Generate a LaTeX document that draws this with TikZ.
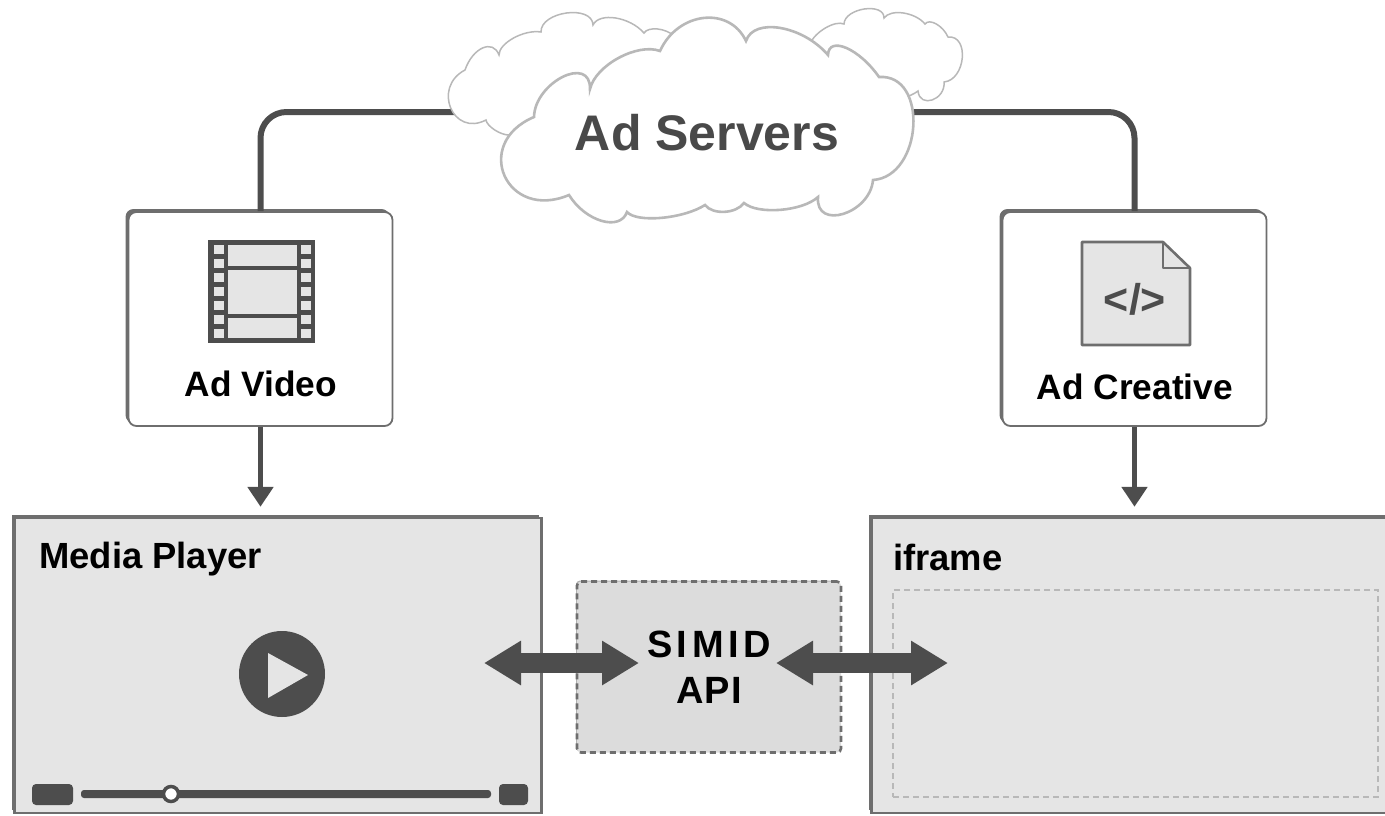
\documentclass[tikz,border=0pt]{standalone}
\usepackage{fontspec}
\setmainfont{Liberation Sans}
\usepackage{xcolor}
\definecolor{addark}{HTML}{4D4D4D}
\definecolor{adedge}{HTML}{6E6E6E}
\definecolor{adfill}{HTML}{E5E5E5}
\definecolor{apifill}{HTML}{DCDCDC}
\definecolor{adcloud}{HTML}{B8B8B8}
\usetikzlibrary{arrows.meta,calc,shadows}
\begin{document}
\begin{tikzpicture}[x=1pt,y=-1pt,>={Triangle[length=37pt,width=42pt]},
    bump/.style={to path={.. controls ($0.133*(\tikztostart)-0.467*(\tikztotarget)+1.333*(#1)$) and ($0.133*(\tikztotarget)-0.467*(\tikztostart)+1.333*(#1)$) .. (\tikztotarget)}},
    roundbump/.style={to path={.. controls ($0.333*(\tikztostart)-0.667*(\tikztotarget)+1.333*(#1)$) and ($0.333*(\tikztotarget)-0.667*(\tikztostart)+1.333*(#1)$) .. (\tikztotarget)}}]
    \tikzstyle{backshade}=[drop shadow={shadow xshift=-3pt,shadow yshift=3pt,opacity=1,fill=adedge}]
    \tikzstyle{adbox}=[rectangle,rounded corners=8pt,draw=adedge,line width=1.8pt,fill=white,minimum width=264pt,minimum height=214pt,inner sep=0pt,backshade]
    \tikzstyle{screen}=[rectangle,draw=adedge,line width=2.4pt,fill=adfill,minimum height=295pt,inner sep=0pt,backshade]
    \tikzstyle{boxlabel}=[font=\bfseries\fontsize{35.3}{40}\selectfont,text=black,inner sep=0pt]
    \tikzstyle{screenlabel}=[font=\bfseries\fontsize{36.4}{40}\selectfont,text=black,inner sep=0pt,anchor=west]
    \tikzstyle{cloudedge}=[draw=adcloud,fill=white,line width=2.6pt]
    \tikzstyle{backcloud}=[draw=adcloud,fill=white,line width=1.5pt]
    \tikzstyle{feed}=[draw=addark,line width=6pt,rounded corners=26pt]
    \tikzstyle{drop}=[draw=addark,line width=5.5pt,-{Triangle[length=20pt,width=25pt]},shorten >=10pt]
    \tikzstyle{duplex}=[draw=addark,line width=20pt,<->]
    \useasboundingbox (0,0) rectangle (1385,815);

    % boxes
    \node[adbox]  (video)    at (260.5,319)      {};
    \node[adbox]  (creative) [right of=video,node distance=874pt] {};
    \node[screen,minimum width=527pt] (player) at (278,665.5)  {};
    \node[screen,minimum width=527pt] (iframe) at (1135,665.5) {};
    \node[rectangle,rounded corners=4pt,draw=adedge,line width=2.6pt,dashed,dash pattern=on 6pt off 4pt,fill=apifill,minimum width=264pt,minimum height=171pt,inner sep=0pt,align=center,font=\bfseries\fontsize{38}{46}\selectfont,drop shadow={shadow xshift=-1pt,shadow yshift=1pt,opacity=1,fill=apifill!60!adedge}] (simid) at (709,667)
        {{\addfontfeature{LetterSpace=12}SIMID}\\{\addfontfeature{LetterSpace=3}API}};
    \node[rectangle,draw=adcloud,line width=1.4pt,dash pattern=on 6pt off 4pt,minimum width=485pt,minimum height=207pt,inner sep=0pt] (slot) at (1135.5,693.5) {};

    % connectors to the cloud go under it
    \coordinate (cloudleft)  at (480,112);
    \coordinate (cloudright) at (900,112);
    \draw[feed] (video.north)    |- (cloudleft);
    \draw[feed] (creative.north) |- (cloudright);
    \draw[drop] (video.south)    -- (video.south |- player.north);
    \draw[drop] (creative.south) -- (creative.south |- iframe.north);

    % back clouds
    \path[backcloud] (465,70) to[bump={483,48}] (499,55) to[bump={514,38}] (541,32)
        to[roundbump={567,13}] (593,25) to[bump={616,18}] (644,33) to[bump={658,29}] (674,36)
        -- (690,70) -- (600,114) -- (509,135) to[bump={495,130}] (486,120) to[roundbump={451,108}] (465,70) -- cycle;
    \path[backcloud] (810,44) to[bump={826,28}] (844,24) to[roundbump={865,9}] (884,18)
        to[bump={904,13}] (925,24) to[bump={937,24}] (948,37) to[roundbump={963,58}] (944,82)
        to[roundbump={933,100}] (918,91) to[bump={912,95}] (905,97) -- (800,85) -- cycle;
    % front cloud
    \path[cloudedge] (660,51) to[bump={704,18}] (746,41) to[bump={781,28}] (828,55)
        to[bump={847,48}] (879,77) to[roundbump={914,126}] (873,180) to[roundbump={844,214}] (818,197)
        to[bump={781,210}] (744,203) to[bump={725,212}] (705,205) to[bump={662,218}] (627,212)
        to[bump={602,221}] (569,195) to[roundbump={505,176}] (534,117) to[roundbump={563,77}] (590,89)
        to[bump={619,58}] (660,51) -- cycle;
    \node[font=\bfseries\fontsize{50}{56}\selectfont,text=addark!95!black,inner sep=0pt] (servers) at (707,133) {Ad Servers};

    % film strip
    \fill[addark] (208,240) rectangle (315,343);
    \foreach \y in {245,259,273,287,301,315,329} {
        \fill[adfill] (214,\y) rectangle (224,\y+9);
        \fill[adfill] (301,\y) rectangle (311,\y+9);
    }
    \fill[adfill] (228,245) rectangle (297,266);
    \fill[adfill] (228,270) rectangle (297,314);
    \fill[adfill] (228,318) rectangle (297,338);
    \node[boxlabel] (videolabel) at (261,384) {Ad Video};

    % source file
    \draw[adedge,fill=adfill,line width=2.6pt,line join=round] (1082,242) -- (1163,242) -- (1190,268) -- (1190,345) -- (1082,345) -- cycle;
    \draw[adedge,line width=2.6pt,line join=round] (1163,242) -- (1163,268) -- (1190,268);
    \node[font=\bfseries\fontsize{43}{46}\selectfont,text=addark,inner sep=0pt] (codemark) at (1135,299) {</>};
    \node[boxlabel] (creativelabel) at (1135,387) {Ad Creative};

    % player controls
    \fill[addark] (282,674) circle (43);
    \fill[adfill] (268,653) -- (308,675) -- (268,698) -- cycle;
    \fill[addark,rounded corners=4pt] (32,784) rectangle (73,805);
    \fill[addark,rounded corners=3pt] (81,790) rectangle (491,798);
    \fill[addark,rounded corners=4pt] (499,784) rectangle (528,805);
    \draw[addark,fill=white,line width=3.5pt] (171,794) circle (7.5);
    \node[screenlabel] (playerlabel) at (39,559) {Media Player};
    \node[screenlabel] (iframelabel) at (893,557) {iframe};

    % API calls
    \coordinate (playerport) at (484,663);
    \coordinate (apileft)    at (639,663);
    \coordinate (apiright)   at (776,663);
    \coordinate (slotport)   at (948,663);
    \draw[duplex] (playerport) -- (apileft);
    \draw[duplex] (apiright)   -- (slotport);
\end{tikzpicture}
\end{document}
